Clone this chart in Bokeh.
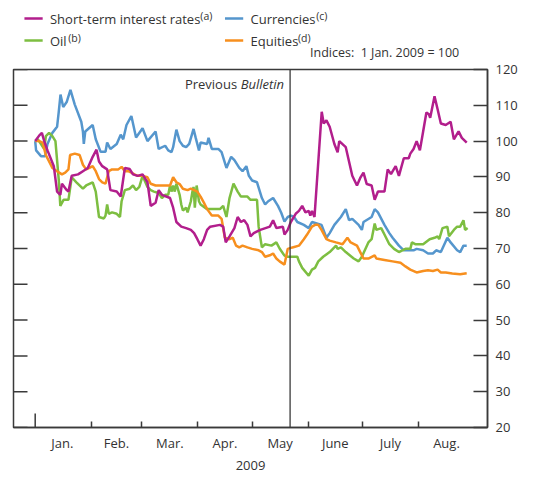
import numpy as np
from bokeh.plotting import figure
from bokeh.layouts import column
from bokeh.models import Range1d, LinearAxis, FixedTicker, Span, Label
from bokeh.core.properties import value
from bokeh.embed import file_html
from bokeh.resources import INLINE

FONT = "Open Sans"
TXT = "#333333"
AX = "#3a3a3a"

# x values: days since 1 Jan. 2009; y values: index, 1 Jan. 2009 = 100
rates_day = [0, 2.3, 3.7, 5.0, 6.8, 10.3, 12.1, 13.9, 14.8, 17.5, 18.4, 20.2, 23.7, 26.4, 29.1, 31.8, 33.9,
             35.3, 37.1, 39.8, 41.6, 45.1, 47.3, 49.6, 52.3, 54.1, 56.7, 59.4, 62.1, 63.9, 66.6, 68.3, 70.1,
             74.6, 76.3, 78.1, 80.8, 83.5, 86.1, 87.9, 89.7, 91.5, 93.3, 95.1, 96.8, 102.2, 104, 105.4, 107.5,
             110.2, 112, 113.8, 115.6, 117.4, 119.1, 120.9, 124.5, 129.8, 131.6, 133.4, 137, 137.9, 139.7,
             141.4, 144.1, 145.9, 147.7, 149.5, 151.3, 152.2, 153.1, 154.5, 158.5, 159.6, 161.1, 162.9, 165.5,
             167.3, 168.2, 171.8, 175.4, 178, 179.8, 181.6, 183.4, 186.1, 187.8, 189.6, 193.2, 195, 196.8,
             199.4, 201.2, 203.9, 206.6, 207.5, 209.3, 211, 212.8, 214.6, 216.4, 217.8, 218.5, 220.9, 222.6,
             224.4, 227.1, 229.8, 231.6, 234.2, 236, 238.7]
rates_val = [100, 101.6, 102.3, 100, 97.4, 93, 85.9, 85, 88.1, 86.3, 85.9, 90.3, 90.7, 91.6, 92.5, 95.6, 97.6,
             94.3, 93, 92.1, 86.3, 85.9, 84.5, 92.5, 92.2, 90.7, 90.3, 90.7, 88.5, 81.9, 82.8, 86.3, 85,
             84.1, 81.4, 77.4, 76.1, 75.7, 75.2, 74.3, 72.6, 70.8, 72.6, 75.2, 76.1, 76.6, 76.1, 71.7, 73.4,
             75.7, 78.8, 77.4, 77.9, 76.6, 73.4, 74.3, 75.2, 76.1, 77.9, 75.7, 76.1, 73.9, 75.2,
             77.4, 79.7, 80.5, 81.9, 80.1, 80.5, 79.2, 80.5, 78.8, 108.2, 104.9, 105.8, 104.0, 99.2,
             96.9, 100, 98.3, 90.3, 87.6, 89.7, 91.2, 88, 87.6, 83.6, 85.9, 85.9, 92.1, 90.8,
             93, 90.3, 95.2, 95.2, 96.5, 97.8, 100, 97.4, 102.7, 108, 107.5, 106.5, 112.5, 108.9,
             104.9, 104.5, 105.4, 100.5, 102.7, 100.9, 99.6]

fx_day = [0, 0.5, 3.2, 5.5, 6.8, 9.5, 12.1, 13, 14, 15.5, 17.5, 19.5, 21.9, 25.5, 26.4, 26.9, 27.7, 31.8,
          33.5, 36.2, 38.9, 39.8, 41.6, 45.1, 47.3, 48.7, 50.5, 53.2, 55.8, 59.4, 62.1, 66.6, 68.3, 71.9,
          73.6, 75.4, 76.3, 78.1, 79.9, 81.7, 83.5, 85.2, 87.6, 88.8, 90.6, 91.5, 95.1, 95.9, 97.7, 101.3,
          103.1, 105.8, 108.4, 110.2, 112.9, 114.7, 116.8, 118.2, 120, 122.7, 125.4, 127.2, 128.9, 131.6,
          134.3, 136.1, 137.9, 139.7, 141.5, 143.2, 145, 148.6, 151.3, 153.1, 158.4, 161.1, 162.9, 165.5,
          169.1, 171.8, 173.6, 175.4, 178.9, 180.7, 181.6, 186.1, 187.8, 189.6, 193.2, 195.9, 197.7, 201.2,
          203.9, 209.3, 211, 214.6, 217.3, 220, 221.8, 224.4, 228, 229.8, 233.4, 235.1, 236.9, 238.7]
fx_val = [100, 97.4, 95.8, 95.8, 99.2, 102.3, 104.0, 108, 113, 109.5, 111, 114.3, 110.2, 105.4, 102.7, 99.2,
          102.7, 104.5, 100.5, 97, 97, 99.6, 97.8, 99.2, 101.8, 100.5, 104.5, 107, 101, 103.6, 100, 102.7,
          97.8, 98.7, 97.4, 96.9, 98.3, 103.2, 100.0, 98.7, 98.3, 99.2, 103.4, 100.9, 97.4, 99.6, 99.2,
          100.9, 97.8, 97.8, 96.9, 92.5, 95.6, 94.7, 92.5, 91.6, 93.0, 90.3, 89.0, 88.5, 84.1, 82.3, 83.2,
          84.1, 81.9, 80, 77.5, 78.8, 79.2, 78.8, 77.4, 76.6, 75.7, 77.4, 76.6, 73.0, 74.3, 76.6, 78.8,
          81.0, 77.9, 78.3, 76.6, 75.2, 77.4, 78.8, 81.0, 80.1, 76.6, 74.3, 73.0, 70.8, 69.5, 69.5, 69.9,
          69.5, 68.6, 68.6, 69.5, 69.0, 73.0, 71.7, 69.5, 69.0, 70.8, 70.8]

oil_day = [0, 1.4, 3.2, 5, 5.9, 7.7, 9.5, 11.2, 13, 13.9, 15.7, 18.4, 20.2, 22.8, 26.4, 28.2, 31.8, 33.5,
           35.3, 38, 38.9, 39.8, 40.7, 42.5, 45.1, 46.9, 47.8, 49.6, 52.3, 54.1, 55.8, 57.6, 59.4, 62.1,
           63.9, 65.7, 68.3, 70.1, 71.9, 73.6, 74.6, 75.4, 76.3, 77.2, 78.1, 79.9, 80.8, 81.7, 83.5, 84.3,
           86.1, 87, 87.6, 88.3, 89.3, 90.6, 91.5, 95.1, 99.5, 102.2, 104, 105.8, 107.5, 109.7, 112, 113.8,
           117.4, 119.1, 122.7, 123.6, 125.4, 127.2, 130.7, 133.4, 135.2, 137.9, 139.7, 143.2, 145, 145.9,
           147.7, 151.3, 153.1, 154.8, 156.6, 159.3, 162.9, 166.4, 167.3, 169.1, 171.8, 176.2, 178.9, 180.7,
           184.3, 186.1, 187.8, 188.7, 191.4, 193.2, 195.9, 198.5, 201.2, 204.8, 207.5, 208.4, 210.2, 214.6,
           218.2, 220.9, 222.6, 223.5, 225.3, 228, 228.9, 231.6, 233.4, 235.1, 236.9, 237.8, 239.2]
oil_val = [100, 100.5, 99.2, 97.8, 101.4, 102.3, 101.4, 100, 89.4, 81.9, 83.6, 83.6, 89.9, 88.5, 86.7, 87.6,
           88.5, 85.9, 78.8, 78.4, 79.2, 82.3, 79.7, 80.1, 79.7, 78.8, 83.2, 86.3, 86.7, 87.6, 86.3, 87.2,
           90.3, 87.2, 86.3, 85.9, 85.5, 84.1, 85, 85, 87.6, 85.9, 87.6, 85.9, 88.1, 85, 82.3, 80.6, 81.4,
           80.1, 83.2, 85.9, 87.2, 81.4, 87.6, 83.2, 82.3, 81, 81, 81, 81.9, 78.8, 84.1, 88.1, 85.9, 84.5,
           84.5, 83.6, 83.6, 76.1, 70.3, 71.2, 70.8, 71.7, 70, 68, 67.7, 67.7, 67.7, 66.4,
           64.6, 62.4, 64.1, 64.6, 66.4, 67.7, 69, 70.8, 69.9, 70.3, 69, 67.2, 66.4, 67.7,
           71.7, 72.6, 77, 75.2, 75.7, 73.9, 71.2, 69.9, 69, 69.9, 69.9, 71.7, 71.2, 71.2,
           72.6, 73, 73.4, 72.6, 75.7, 76.1, 73.4, 75.2, 76.1, 76.1, 77.9, 75.2, 75.7]

eq_day = [0, 2.3, 4.1, 5.9, 7.7, 9.5, 12.1, 14.8, 16.6, 18.4, 19.3, 21.9, 24.6, 26.4, 28.2, 30, 31.8, 33.5,
          35.3, 37.1, 38.9, 40.7, 42.5, 46, 47.8, 49.6, 51.4, 53.2, 54.9, 56.7, 59.4, 62.1, 63.9, 66.6, 74.6,
          76.3, 78.1, 79.9, 81.7, 84.3, 86.1, 87.9, 89.7, 91.5, 93.3, 95.1, 97.7, 101.3, 103.1, 104.9, 107.5,
          109.3, 111.1, 112.9, 114.7, 117.4, 120, 123.6, 125.4, 127.2, 129.8, 131.6, 133.4, 135.2, 137.9,
          139.7, 142.3, 145.9, 148.6, 150.4, 153.1, 154.8, 156.6, 158.4, 161.1, 162.9, 166.4, 170, 172.7,
          174.5, 178, 179.8, 181.6, 184.3, 187.8, 188.7, 193.2, 197.7, 202.1, 204.8, 207.5, 211, 214.6,
          217.3, 220, 222.6, 224.4, 227.1, 230.7, 235.1, 238.7]
eq_val = [100, 100, 99.6, 96.1, 94.3, 92.5, 91.6, 90.7, 91.2, 92.1, 96.1, 96.5, 96.1, 93.4, 92.1, 92.5, 93,
          91.6, 89.4, 88.5, 88.1, 91.6, 92.1, 92.1, 92.8, 91.6, 91.6, 91.2, 90.7, 90.3, 90.3, 89.9, 88.1,
          87.6, 87.6, 89.9, 88.5, 88, 86.7, 86.3, 86.7, 86.3, 85.9, 84.5, 82.8, 81, 79.2, 79.2, 78.3, 73,
          72.6, 73, 70.8, 70.3, 70.8, 70.3, 69.9, 69.5, 69, 67.7, 68.1, 68.6, 67.2, 66.4, 65.5,
          69.9, 70.3, 70.8, 72.6, 73.9, 76.1, 76.6, 76.6, 75.2, 72.6, 72.2, 71.7, 71.2, 73,
          71.7, 70.8, 69, 67.2, 67.2, 68.1, 67.2, 66.8, 66.4, 66, 65, 64.1, 63.3, 63.7,
          63.9, 63.7, 64.1, 63.3, 63.3, 63, 62.8, 63.1]

month_start_days = [0, 31, 59, 90, 120, 151, 181, 212]
month_mid_days = [15, 45, 74.5, 105, 135.5, 166, 196.5, 227.5]
month_labels = ["Jan.", "Feb.", "Mar.", "Apr.", "May", "June", "July", "Aug."]
y_ticks = [20, 30, 40, 50, 60, 70, 80, 90, 100, 110, 120]
prev_bulletin_day = 141
x_start, x_end = -12, 250.2
y_start, y_end = 20, 120

series_names = ["Short-term interest rates", "Currencies", "Oil", "Equities"]
series_notes = ["(a)", "(c)", "(b)", "(d)"]
units_note = "Indices:\u00a0 1 Jan. 2009 = 100"

for a, b in [(rates_day, rates_val), (fx_day, fx_val), (oil_day, oil_val), (eq_day, eq_val)]:
    assert len(a) == len(b), (len(a), len(b))

C_RATES = "#B21E8C"
C_FX = "#5596CD"
C_OIL = "#7DBE41"
C_EQ = "#F78F1E"
series_colors = [C_RATES, C_FX, C_OIL, C_EQ]

W = 520
LEG_H = 60
MAIN_H = 414
BORDER_L, BORDER_R = 13, 31

# ---------------- legend strip (pixel coordinates, y downwards) ----------------
lg = figure(width=W, height=LEG_H, x_range=Range1d(0, W), y_range=Range1d(LEG_H, 0),
            output_backend="svg", toolbar_location=None, x_axis_location=None, y_axis_location=None,
            min_border=0, outline_line_color=None)
lg.grid.visible = False
leg_x0 = [12, 232, 12, 232]
leg_y = [18, 18, 40, 40]
lg.segment(x0=leg_x0, y0=leg_y, x1=[x + 20 for x in leg_x0], y1=leg_y, line_color=series_colors,
           line_width=2.5)
lg.text(x=[x + 28 for x in leg_x0], y=leg_y, text=series_names, text_font=value(FONT),
        text_font_size="13px", text_color=TXT, text_baseline="middle")
note_x = [205, 332, 60, 312]
lg.text(x=note_x, y=[y - 3 for y in leg_y], text=series_notes, text_font=value(FONT),
        text_font_size="10.5px", text_color=TXT, text_baseline="middle")
lg.text(x=[W - BORDER_R], y=[52], text=[units_note], text_font=value(FONT), text_font_size="12.5px",
        text_color=TXT, text_align="right", text_baseline="middle")

# ---------------- main chart ----------------
p = figure(width=W, height=MAIN_H, x_range=Range1d(x_start, x_end), y_range=Range1d(y_start, y_end),
           output_backend="svg", toolbar_location=None, x_axis_location=None, y_axis_location=None,
           min_border_left=BORDER_L, min_border_right=BORDER_R, min_border_top=9, min_border_bottom=47)
p.grid.visible = False
p.outline_line_color = AX
p.outline_line_width = 1.5

# bottom axis: month labels at mid-month, short ticks at month starts
xb = LinearAxis(ticker=FixedTicker(ticks=month_mid_days, minor_ticks=month_start_days[1:]),
                major_label_overrides={d: l for d, l in zip(month_mid_days, month_labels)},
                major_tick_in=0, major_tick_out=0, minor_tick_in=6, minor_tick_out=0,
                axis_label="2009", axis_label_standoff=6, major_label_standoff=6,
                axis_line_color=AX, axis_line_width=1.5, minor_tick_line_color=AX, minor_tick_line_width=1.5)
xb.major_label_text_font = FONT
xb.major_label_text_font_size = "13px"
xb.major_label_text_color = TXT
xb.axis_label_text_font = FONT
xb.axis_label_text_font_size = "13px"
xb.axis_label_text_font_style = "normal"
xb.axis_label_text_color = TXT
p.add_layout(xb, "below")

# taller tick marking the start of the year
p.ray(x=[month_start_days[0]], y=[y_start], length=14, length_units="screen", angle=np.pi / 2,
      line_color=AX, line_width=1.5)
# inward ticks on the left edge
p.ray(x=[x_start] * len(y_ticks), y=y_ticks, length=14, length_units="screen", angle=0,
      line_color=AX, line_width=1.5)

yr = LinearAxis(ticker=FixedTicker(ticks=y_ticks), major_tick_in=14, major_tick_out=0,
                minor_tick_in=0, minor_tick_out=0, major_label_standoff=8,
                axis_line_color=AX, axis_line_width=1.5, major_tick_line_color=AX, major_tick_line_width=1.5)
yr.major_label_text_font = FONT
yr.major_label_text_font_size = "13px"
yr.major_label_text_color = TXT
p.add_layout(yr, "right")

p.add_layout(Span(location=prev_bulletin_day, dimension="height", line_color=AX, line_width=1.3))

p.line(fx_day, fx_val, line_color=C_FX, line_width=2.5)
p.line(oil_day, oil_val, line_color=C_OIL, line_width=2.5)
p.line(eq_day, eq_val, line_color=C_EQ, line_width=2.5)
p.line(rates_day, rates_val, line_color=C_RATES, line_width=2.5)

p.add_layout(Label(x=prev_bulletin_day, y=y_end, x_offset=-6, y_offset=-14, text="Bulletin",
                   text_font=FONT, text_font_size="13px", text_font_style="italic", text_color=TXT,
                   text_align="right", text_baseline="middle"))
p.add_layout(Label(x=prev_bulletin_day, y=y_end, x_offset=-53, y_offset=-14, text="Previous",
                   text_font=FONT, text_font_size="13px", text_color=TXT,
                   text_align="right", text_baseline="middle"))

open("out.html", "w").write(file_html(column(lg, p), INLINE))
